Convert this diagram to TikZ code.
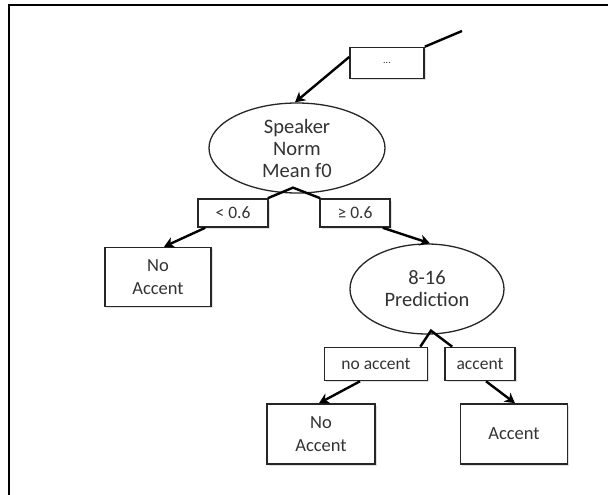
\documentclass[tikz,border=0pt]{standalone}
\usepackage{fontspec}
\setmainfont{Carlito}
\usetikzlibrary{shapes.geometric,arrows.meta,shadows}
\begin{document}
\begin{tikzpicture}[x=1pt,y=-1pt,
  box/.style={draw=black!85, fill=white, line width=1.6pt, rectangle, inner sep=2pt, align=center,
    font=\fontsize{18.5}{23}\selectfont, text=black!80,
    drop shadow={shadow xshift=1.5pt, shadow yshift=-1.5pt, fill=black!30, opacity=0.4}},
  lbl/.style={box, font=\fontsize{17.5}{20}\selectfont},
  oval/.style={draw=black!85, fill=white, line width=1.3pt, ellipse, inner sep=0pt, align=center,
    font=\fontsize{20.5}{22}\selectfont, text=black!80},
  conn/.style={line width=2.4pt, draw=black},
  arr/.style={conn, -{Stealth[length=10pt,width=11pt,inset=3pt]}}]
\useasboundingbox (0,0) rectangle (608,495);
\draw[line width=2pt] (9,495) -- (9,5) -- (608,5);
\node[box, minimum width=74pt, minimum height=31pt] (dots) at (387,63) {\fontsize{10}{10}\selectfont ...};
\coordinate (topend) at (462,31);
\node[oval, minimum width=176pt, minimum height=90pt] (e1) at (297,148) {Speaker\\Norm\\Mean f0};
\node[lbl, minimum width=70pt, minimum height=28pt] (lt) at (233,213) {< 0.6};
\node[lbl, minimum width=70pt, minimum height=28pt] (ge) at (355,213) {≥ 0.6};
\node[box, minimum width=106pt, minimum height=59pt] (na1) at (158,277) {No\\Accent};
\node[oval, minimum width=154pt, minimum height=90pt] (e2) at (427,289) {8-16\\Prediction};
\node[lbl, minimum width=103pt, minimum height=33pt] (nal) at (376,364) {no accent};
\node[lbl, minimum width=70pt, minimum height=33pt] (acl) at (480,364) {accent};
\node[box, minimum width=108pt, minimum height=60pt] (na2) at (321,434) {No\\Accent};
\node[box, minimum width=107pt, minimum height=60pt] (ac) at (514,434) {Accent};

\draw[conn] (dots.north east) -- (topend);
\draw[arr] ([yshift=6pt]dots.west) -- ([xshift=-2pt]e1.north);
\draw[conn, line join=miter] ([xshift=-1pt]lt.north east) -- ([xshift=-4pt,yshift=6pt]e1.south) -- ([xshift=1pt]ge.north west);
\draw[arr] ([xshift=8pt]lt.south west) -- ([xshift=6pt]na1.north);
\draw[arr] ([xshift=-8pt]ge.south east) -- ([xshift=3pt]e2.north);
\draw[conn, line join=miter] ([xshift=-8pt]nal.north east) -- ([xshift=4pt,yshift=4pt]e2.south) -- ([xshift=8pt]acl.north west);
\draw[arr] ([xshift=-16pt]nal.south) -- ([xshift=-2pt]na2.north);
\draw[arr] ([xshift=6pt]acl.south) -- ([xshift=1pt]ac.north);
\end{tikzpicture}
\end{document}
